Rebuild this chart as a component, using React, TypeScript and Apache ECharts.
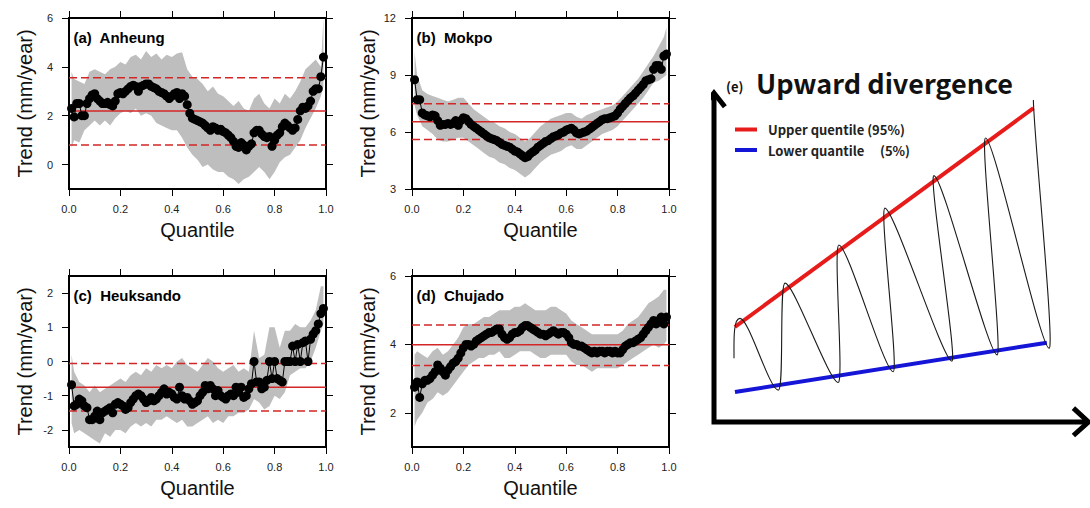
import React, { useEffect, useRef } from "react";
import * as echarts from "echarts";

// ---------- data ----------
const quantiles = Array.from({ length: 99 }, (_, i) => +((i + 1) / 100).toFixed(2));
const bandQuantiles = [0.01, ...Array.from({ length: 49 }, (_, i) => +((i + 1) * 0.02).toFixed(2)), 0.99];

const panelTitles = ["(a)  Anheung", "(b)  Mokpo", "(c)  Heuksando", "(d)  Chujado"];
const yMins = [-1, 3, -2.5, 1];
const yMaxs = [6, 12, 2.5, 6];
const yTickValues = [[0, 2, 4, 6], [3, 6, 9, 12], [-2, -1, 0, 1, 2], [2, 4, 6]];
const meanTrend = [2.19, 6.54, -0.755, 3.99];
const upperTrend = [3.55, 7.49, -0.06, 4.57];
const lowerTrend = [0.8, 5.6, -1.45, 3.38];

const anheungTrend = [
  2.3, 1.95, 2.5, 2.5, 2.0, 2.0, 2.5, 2.7, 2.85, 2.9,
  2.7, 2.6, 2.5, 2.5, 2.55, 2.45, 2.4, 2.6, 2.9, 2.95,
  2.9, 3.0, 3.1, 3.2, 3.25, 3.2, 3.0, 3.2, 3.25, 3.3,
  3.3, 3.2, 3.15, 3.1, 3.0, 2.95, 2.9, 2.8, 2.7, 2.8,
  2.9, 2.95, 2.7, 2.9, 2.8, 2.45, 2.1, 1.9, 1.85, 1.8,
  1.75, 1.7, 1.6, 1.5, 1.4, 1.55, 1.5, 1.4, 1.45, 1.35,
  1.3, 1.2, 1.1, 0.95, 0.75, 0.7, 0.9, 0.8, 0.6, 0.75,
  0.85, 1.3, 1.4, 1.4, 1.25, 1.15, 1.1, 1.15, 0.75, 1.0,
  1.2, 1.3, 1.55, 1.7, 1.6, 1.5, 1.4, 1.5, 1.85, 2.2,
  2.35, 2.3, 2.4, 2.6, 3.0, 3.1, 3.1, 3.6, 4.4,
];
const anheungUpper = [
  3.8, 3.5, 3.4, 3.3, 3.8, 3.9, 3.8, 3.7, 3.9, 4.0,
  4.2, 4.1, 4.4, 4.5, 4.3, 4.65, 4.4, 4.55, 4.3, 4.5,
  4.4, 4.55, 4.6, 3.9, 3.6, 3.5, 3.3, 3.0, 3.2, 2.9,
  2.8, 2.6, 2.4, 2.6, 2.3, 2.2, 2.7, 2.9, 2.5, 2.3,
  2.7, 2.5, 2.9, 2.7, 3.0, 3.4, 3.9, 4.1, 4.3, 4.0, 6.0,
];
const anheungLower = [
  0.7, 1.0, 0.9, 1.4, 1.6, 1.8, 1.6, 1.8, 1.6, 1.9,
  2.1, 2.2, 2.1, 2.3, 2.0, 2.1, 2.0, 1.7, 1.6, 1.5,
  1.4, 1.4, 1.1, 0.7, 0.4, 0.2, -0.1, 0.0, -0.2, -0.3,
  -0.3, -0.5, -0.6, -0.8, -0.6, -0.5, -0.3, -0.1, -0.3, -0.6,
  -0.3, 0.1, 0.3, 0.4, 0.7, 1.0, 1.5, 1.9, 2.3, 2.8, 3.2,
];

const mokpoTrend = [
  8.75, 7.7, 7.7, 7.0, 6.9, 6.85, 6.8, 6.9, 6.85, 6.6,
  6.35, 6.4, 6.4, 6.45, 6.4, 6.45, 6.6, 6.35, 6.6, 6.75,
  6.7, 6.55, 6.4, 6.3, 6.2, 6.1, 6.0, 5.9, 5.8, 5.7,
  5.65, 5.6, 5.55, 5.45, 5.35, 5.3, 5.25, 5.2, 5.1, 5.0,
  4.95, 4.85, 4.75, 4.65, 4.7, 4.85, 4.95, 5.05, 5.2, 5.3,
  5.4, 5.5, 5.55, 5.65, 5.75, 5.8, 5.85, 5.95, 6.0, 6.1,
  6.15, 6.2, 6.1, 5.95, 5.9, 5.95, 6.0, 6.05, 6.15, 6.25,
  6.35, 6.45, 6.55, 6.65, 6.7, 6.7, 6.75, 6.8, 6.85, 7.0,
  7.2, 7.35, 7.5, 7.65, 7.8, 7.9, 8.05, 8.2, 8.35, 8.5,
  8.7, 8.75, 8.8, 9.3, 9.5, 9.5, 9.3, 10.0, 10.1,
];
const mokpoUpper = [
  10.2, 9.0, 8.2, 8.0, 7.9, 7.8, 7.7, 7.6, 7.7, 7.8,
  7.8, 7.5, 7.2, 7.0, 6.8, 6.6, 6.5, 6.3, 6.2, 6.0,
  5.9, 5.7, 5.5, 5.7, 6.0, 6.3, 6.5, 6.7, 6.8, 6.9,
  7.0, 7.0, 6.8, 6.7, 6.9, 7.0, 7.1, 7.2, 7.3, 7.4,
  7.6, 7.9, 8.2, 8.5, 8.8, 9.2, 9.6, 10.0, 10.5, 11.0, 11.5,
];
const mokpoLower = [
  7.4, 6.9, 6.3, 6.1, 5.9, 5.6, 5.5, 5.5, 5.6, 5.7,
  5.7, 5.5, 5.3, 5.1, 4.9, 4.7, 4.6, 4.4, 4.3, 4.1,
  4.0, 3.8, 3.6, 3.8, 4.1, 4.4, 4.6, 4.8, 4.9, 5.0,
  5.2, 5.3, 5.1, 5.1, 5.3, 5.5, 5.7, 5.9, 6.0, 6.1,
  6.3, 6.6, 6.9, 7.2, 7.5, 7.8, 8.2, 8.6, 8.7, 8.9, 9.0,
];

const heuksandoTrend = [
  -0.68, -1.3, -1.25, -1.1, -1.15, -1.3, -1.35, -1.7, -1.7, -1.6,
  -1.45, -1.7, -1.5, -1.45, -1.4, -1.35, -1.5, -1.25, -1.2, -1.25,
  -1.3, -1.4, -1.35, -1.2, -1.1, -1.0, -0.95, -1.0, -1.1, -1.2,
  -1.15, -1.05, -1.15, -1.1, -1.0, -0.9, -0.8, -0.95, -0.9, -0.95,
  -1.05, -1.1, -0.75, -1.0, -1.1, -1.05, -1.15, -1.25, -1.2, -1.15,
  -1.0, -0.9, -0.7, -0.8, -0.7, -0.8, -1.0, -0.85, -1.0, -1.05,
  -1.1, -1.0, -0.95, -1.0, -0.75, -0.9, -0.75, -1.05, -1.0, -0.8,
  -0.65, 0.0, -0.6, -0.6, -0.8, -0.75, -0.55, 0.0, -0.5, 0.0,
  -0.5, -0.55, -0.6, 0.0, 0.0, 0.0, 0.45, 0.0, 0.5, 0.0,
  0.55, 0.6, 0.0, 0.65, 0.8, 0.9, 1.1, 1.4, 1.55,
];
const heuksandoUpper = [
  0.2, -0.3, -0.6, -0.7, -0.9, -0.7, -0.9, -0.8, -0.7, -0.6,
  -0.5, -0.6, -0.4, -0.3, -0.4, -0.2, -0.3, -0.1, -0.2, -0.1,
  -0.2, 0.0, 0.1, -0.1, -0.2, -0.3, -0.1, 0.1, 0.0, -0.2,
  -0.3, -0.2, -0.1, -0.3, -0.2, -0.3, 0.9, 0.1, 0.2, 1.0,
  1.0, 0.4, 0.9, 0.9, 1.1, 1.0, 1.0, 1.2, 1.5, 2.2, 2.2,
];
const heuksandoLower = [
  -1.8, -2.1, -2.0, -2.1, -2.2, -2.3, -2.4, -2.1, -2.2, -2.0,
  -2.0, -2.1, -1.9, -1.8, -1.9, -1.8, -1.9, -1.7, -1.7, -1.6,
  -1.7, -1.8, -1.7, -1.9, -1.9, -1.8, -1.7, -1.6, -1.8, -1.7,
  -1.8, -1.6, -1.6, -1.5, -1.5, -1.4, -1.1, -1.2, -1.4, -1.3,
  -1.0, -1.1, -0.9, -0.4, -0.3, -0.2, -0.2, 0.0, 0.4, 0.9, 1.1,
];

const chujadoTrend = [
  2.75, 2.9, 2.45, 2.85, 2.95, 2.95, 3.0, 3.1, 3.2, 3.4,
  3.3, 3.2, 3.1, 3.25, 3.35, 3.45, 3.5, 3.6, 3.75, 3.9,
  4.0, 4.0, 3.95, 4.0, 4.1, 4.15, 4.2, 4.25, 4.3, 4.35,
  4.35, 4.4, 4.45, 4.45, 4.3, 4.2, 4.15, 4.2, 4.3, 4.35,
  4.35, 4.4, 4.5, 4.55, 4.55, 4.5, 4.45, 4.4, 4.35, 4.3,
  4.3, 4.25, 4.3, 4.35, 4.4, 4.35, 4.3, 4.35, 4.35, 4.3,
  4.2, 4.05, 4.0, 4.0, 3.95, 3.95, 3.9, 3.85, 3.8, 3.75,
  3.8, 3.75, 3.8, 3.8, 3.75, 3.8, 3.8, 3.75, 3.8, 3.75,
  3.75, 3.85, 3.95, 4.0, 4.05, 4.05, 4.1, 4.15, 4.2, 4.3,
  4.4, 4.5, 4.6, 4.7, 4.6, 4.7, 4.8, 4.6, 4.8,
];
const chujadoUpper = [
  3.7, 3.8, 3.7, 3.6, 3.8, 3.9, 3.7, 3.8, 4.0, 4.2,
  4.5, 4.6, 4.6, 4.7, 4.8, 4.8, 4.9, 5.0, 5.0, 5.0,
  5.1, 5.1, 5.2, 5.1, 5.0, 5.0, 5.0, 5.1, 5.1, 5.0,
  4.9, 4.7, 4.6, 4.5, 4.4, 4.3, 4.3, 4.3, 4.3, 4.3,
  4.3, 4.4, 4.6, 4.7, 4.8, 5.0, 5.2, 5.3, 5.4, 5.6, 5.6,
];
const chujadoLower = [
  1.6, 1.8, 2.0, 2.3, 2.4, 2.6, 2.5, 2.6, 2.8, 3.0,
  3.2, 3.4, 3.5, 3.6, 3.6, 3.7, 3.7, 3.8, 3.6, 3.6,
  3.7, 3.8, 3.8, 3.8, 3.7, 3.6, 3.6, 3.7, 3.7, 3.7,
  3.7, 3.5, 3.4, 3.4, 3.3, 3.2, 3.3, 3.3, 3.3, 3.3,
  3.3, 3.4, 3.5, 3.6, 3.7, 3.8, 3.9, 4.0, 3.9, 4.0, 4.1,
];

const trendSeries = [anheungTrend, mokpoTrend, heuksandoTrend, chujadoTrend];
const upperBands = [anheungUpper, mokpoUpper, heuksandoUpper, chujadoUpper];
const lowerBands = [anheungLower, mokpoLower, heuksandoLower, chujadoLower];

// schematic (e): normalized 0-100 coordinates
const schemeUpperLine = [[5.6, 28.9], [85.4, 95.4]];
const schemeLowerLine = [[5.6, 9.1], [89.0, 24.1]];
const spiralTurns = [
  [5.35, 19.4], [6.95, 31.5], [17.2, 9.7], [19.0, 42.2], [33.2, 12.0], [33.4, 53.8],
  [47.9, 15.3], [45.7, 65.0], [63.6, 18.5], [58.8, 74.9], [75.7, 20.4], [72.6, 86.3],
  [89.6, 22.4], [85.4, 97.9],
];
const schemeAxes = [[0, 99.3], [0, 0], [99.5, 0]];
const schemeArrowUp = [[-2.9, 95.8], [0, 100], [2.9, 95.8]];
const schemeArrowRight = [[96.1, 4.2], [100.1, 0], [96.1, -4.1]];

// ---------- layout ----------
const gridLeft = [69, 412, 69, 412];
const gridTop = [18, 18, 276, 276];
const gridW = 257;
const gridH = 171;
const FONT = "'Liberation Sans', Arial, Helvetica, sans-serif";
const KFONT = "'Noto Sans CJK KR', 'Noto Sans', sans-serif";
const RED = "#e81b1b";
const BLUE = "#1515d8";
const REF = "#d42626";

function buildOption() {
  const grid: any[] = [];
  const xAxis: any[] = [];
  const yAxis: any[] = [];
  const series: any[] = [];
  const graphic: any[] = [];

  const tickStyle = { show: true, inside: false, length: 7, lineStyle: { color: "#000", width: 1 } };
  const labelStyle = { fontSize: 11, color: "#222", fontFamily: FONT };

  for (let i = 0; i < 4; i++) {
    grid.push({
      left: gridLeft[i], top: gridTop[i], width: gridW, height: gridH,
      show: true, borderColor: "#000", borderWidth: 2, backgroundColor: "transparent",
    });
    xAxis.push({
      type: "value", gridIndex: i, position: "bottom", min: 0, max: 1, interval: 0.2,
      axisLine: { show: false, onZero: false }, splitLine: { show: false },
      axisTick: tickStyle,
      axisLabel: { ...labelStyle, margin: 14, formatter: (v: number) => v.toFixed(1) },
      name: "Quantile", nameLocation: "middle", nameGap: 31,
      nameTextStyle: { fontSize: 20, color: "#111", fontFamily: FONT },
    });
    xAxis.push({
      type: "value", gridIndex: i, position: "top", min: 0, max: 1, interval: 0.2,
      axisLine: { show: false, onZero: false }, splitLine: { show: false },
      axisTick: tickStyle, axisLabel: { show: false },
    });
    yAxis.push({
      type: "value", gridIndex: i, position: "left", min: yMins[i], max: yMaxs[i],
      axisLine: { show: false, onZero: false }, splitLine: { show: false },
      axisTick: { ...tickStyle, customValues: yTickValues[i] },
      axisLabel: { ...labelStyle, margin: 16, customValues: yTickValues[i] },
      name: "Trend (mm/year)", nameLocation: "middle", nameGap: 34,
      nameTextStyle: { fontSize: 20, color: "#111", fontFamily: FONT },
    });
    yAxis.push({
      type: "value", gridIndex: i, position: "right", min: yMins[i], max: yMaxs[i],
      axisLine: { show: false, onZero: false }, splitLine: { show: false },
      axisTick: { ...tickStyle, customValues: yTickValues[i] },
      axisLabel: { show: false },
    });

    const upper = upperBands[i];
    const lower = lowerBands[i];
    series.push({
      type: "custom", xAxisIndex: i * 2, yAxisIndex: i * 2, data: [[0.5, yMins[i]]], silent: true, clip: true, z: 1,
      renderItem: (_p: any, api: any) => {
        const pts: number[][] = [];
        for (let k = 0; k < bandQuantiles.length; k++) pts.push(api.coord([bandQuantiles[k], upper[k]]));
        for (let k = bandQuantiles.length - 1; k >= 0; k--) pts.push(api.coord([bandQuantiles[k], lower[k]]));
        return { type: "polygon", shape: { points: pts }, style: { fill: "#bebebe", stroke: null } };
      },
    });
    const refs = [
      { v: meanTrend[i], t: "solid" },
      { v: upperTrend[i], t: [8, 4] },
      { v: lowerTrend[i], t: [8, 4] },
    ];
    refs.forEach((r) => {
      series.push({
        type: "line", xAxisIndex: i * 2, yAxisIndex: i * 2, data: [[0, r.v], [1, r.v]],
        symbol: "none", silent: true, z: 2,
        lineStyle: { color: REF, width: 1.5, type: r.t },
      });
    });
    const vals = trendSeries[i];
    series.push({
      type: "line", xAxisIndex: i * 2, yAxisIndex: i * 2,
      data: quantiles.map((q, k) => [q, vals[k]]),
      symbol: "circle", symbolSize: 9, showSymbol: true, silent: true, z: 3,
      itemStyle: { color: "#000" }, lineStyle: { color: "#000", width: 1 },
    });

    graphic.push({
      type: "text", x: gridLeft[i] + 4.5, y: gridTop[i] + 19,
      style: { text: panelTitles[i], fontSize: 15, fontWeight: "bold", fontFamily: FONT, fill: "#000", verticalAlign: "middle" },
    });
  }

  // schematic panel (e)
  grid.push({ left: 714, top: 93, width: 374, height: 329, show: false });
  xAxis.push({ type: "value", gridIndex: 4, min: 0, max: 100, show: false });
  yAxis.push({ type: "value", gridIndex: 4, min: 0, max: 100, show: false });
  const sx = 8, sy = 8;
  const black5 = { color: "#000", width: 5, join: "miter", cap: "butt" };
  series.push({ type: "line", xAxisIndex: sx, yAxisIndex: sy, data: schemeAxes, symbol: "none", clip: false, silent: true, lineStyle: black5 });
  series.push({ type: "line", xAxisIndex: sx, yAxisIndex: sy, data: schemeArrowUp, symbol: "none", clip: false, silent: true, lineStyle: black5 });
  series.push({ type: "line", xAxisIndex: sx, yAxisIndex: sy, data: schemeArrowRight, symbol: "none", clip: false, silent: true, lineStyle: black5 });
  series.push({ type: "line", xAxisIndex: sx, yAxisIndex: sy, data: schemeUpperLine, symbol: "none", clip: false, silent: true, lineStyle: { color: RED, width: 4 } });
  series.push({ type: "line", xAxisIndex: sx, yAxisIndex: sy, data: schemeLowerLine, symbol: "none", clip: false, silent: true, lineStyle: { color: BLUE, width: 4 } });
  series.push({
    type: "custom", xAxisIndex: sx, yAxisIndex: sy, data: [[50, 50]], silent: true, clip: false, z: 5,
    renderItem: (_p: any, api: any) => {
      const p = spiralTurns.map((pt) => api.coord(pt));
      const children: any[] = [];
      const st = { stroke: "#1a1a1a", lineWidth: 1.1, fill: null };
      const add = (a: number[], c1: number[], c2: number[], b: number[]) =>
        children.push({ type: "bezierCurve", shape: { x1: a[0], y1: a[1], cpx1: c1[0], cpy1: c1[1], cpx2: c2[0], cpy2: c2[1], x2: b[0], y2: b[1] }, style: st });
      add(p[0], [p[0][0], p[0][1] - 16], [p[1][0] - 7, p[1][1]], p[1]);
      for (let i = 1; i < p.length - 1; i++) {
        const a = p[i], b = p[i + 1];
        const w = i % 2 === 1 ? 9 : 6;
        const last = i === p.length - 2;
        const c2 = last ? [b[0], b[1] + 30] : [b[0] - w, b[1]];
        add(a, [a[0] + w, a[1]], c2, b);
      }
      return { type: "group", children };
    },
  });

  graphic.push(
    { type: "text", x: 726, y: 86, style: { text: "(e)", fontSize: 13, fontWeight: "bold", fontFamily: KFONT, fill: "#111", verticalAlign: "middle" } },
    { type: "text", x: 756, y: 82, style: { text: "Upward divergence", fontSize: 27, fontWeight: "bold", fontFamily: KFONT, fill: "#111", verticalAlign: "middle" } },
    { type: "line", shape: { x1: 735, y1: 129.5, x2: 757, y2: 129.5 }, style: { stroke: RED, lineWidth: 4 } },
    { type: "line", shape: { x1: 735, y1: 150, x2: 757, y2: 150 }, style: { stroke: BLUE, lineWidth: 4 } },
    { type: "text", x: 768, y: 129.5, style: { text: "Upper quentile (95%)", fontSize: 13, fontWeight: "bold", fontFamily: KFONT, fill: "#222", verticalAlign: "middle" } },
    { type: "text", x: 768, y: 150, style: { text: "Lower quantile", fontSize: 13, fontWeight: "bold", fontFamily: KFONT, fill: "#222", verticalAlign: "middle" } },
    { type: "text", x: 880, y: 150, style: { text: "(5%)", fontSize: 13, fontWeight: "bold", fontFamily: KFONT, fill: "#222", verticalAlign: "middle" } },
  );

  return { animation: false, backgroundColor: "#fff", grid, xAxis, yAxis, series, graphic };
}

export default function App() {
  const ref = useRef<HTMLDivElement>(null);
  useEffect(() => {
    document.body.style.margin = "0";
    const chart = echarts.init(ref.current!, null, { renderer: "svg" });
    chart.setOption(buildOption() as any);
    return () => chart.dispose();
  }, []);
  return <div ref={ref} style={{ width: 1090, height: 508 }} />;
}
